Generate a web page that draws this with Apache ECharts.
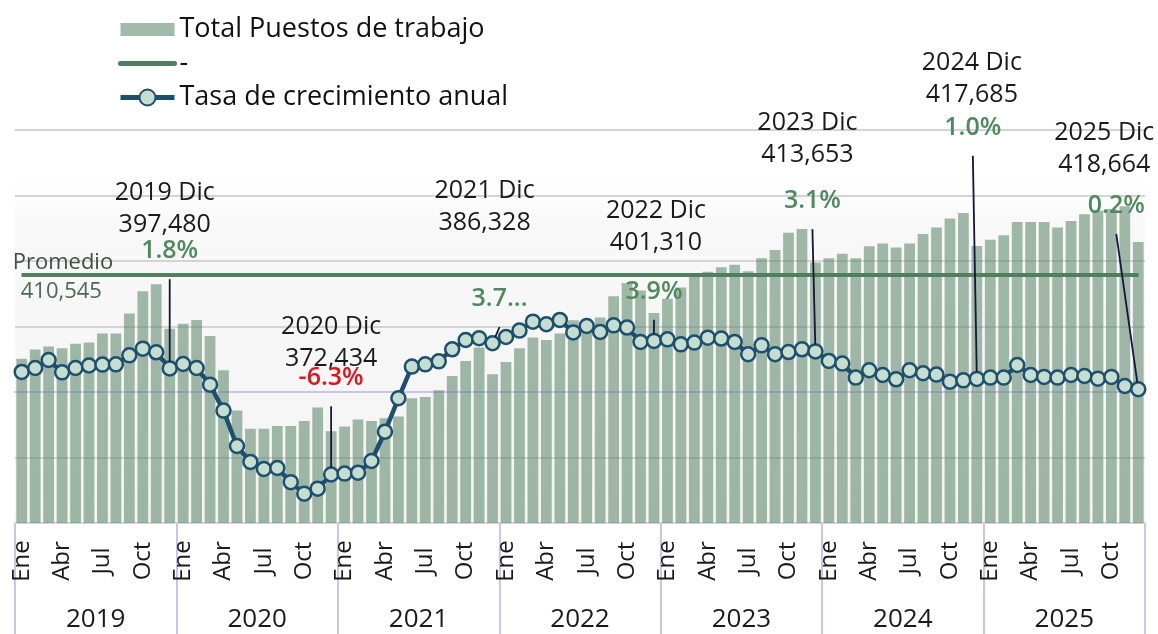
<!DOCTYPE html>
<html><head><meta charset="utf-8">
<script src="https://cdn.jsdelivr.net/npm/echarts@6/dist/echarts.min.js"></script>
<style>html,body{margin:0;padding:0;background:#fff}#c{width:1158px;height:634px}</style>
</head><body><div id="c"></div>
<script>
const MONTHS = ['Ene','Feb','Mar','Abr','May','Jun','Jul','Ago','Sep','Oct','Nov','Dic'];
const YEARS = ['2019','2020','2021','2022','2023','2024','2025'];
const PUESTOS = [
  390150, 392400, 393100, 392700, 393800, 394100, 396300, 396300, 401200, 406600, 408300, 397480,
  398700, 399600, 395700, 387300, 377500, 373000, 373000, 373700, 373700, 374900, 378200, 372434,
  373600, 375300, 374900, 375600, 376000, 380500, 380800, 382400, 385900, 389600, 392900, 386328,
  389300, 392700, 395300, 394700, 396300, 399500, 399800, 400200, 405400, 408600, 406800, 401310,
  404800, 407500, 410900, 411400, 412500, 413100, 411500, 414700, 416700, 420900, 421800, 413653,
  414700, 415800, 414700, 417600, 418300, 417300, 418300, 420600, 422200, 424400, 425700, 417685,
  419200, 420300, 423500, 423500, 423500, 422200, 423800, 425400, 426300, 426700, 427400, 418664
];
const TASA = [
  1.53, 1.83, 2.44, 1.50, 1.83, 2.02, 2.09, 2.11, 2.80, 3.31, 3.03, 1.80,
  2.14, 1.83, 0.56, -1.42, -4.12, -5.34, -5.88, -5.80, -6.88, -7.76, -7.38, -6.30,
  -6.23, -6.16, -5.27, -3.03, -0.48, 1.94, 2.11, 2.34, 3.26, 3.97, 4.10, 3.72,
  4.20, 4.69, 5.37, 5.17, 5.50, 4.55, 5.04, 4.58, 5.09, 4.92, 3.82, 3.90,
  4.02, 3.64, 3.77, 4.15, 4.08, 3.82, 2.88, 3.56, 2.88, 3.05, 3.26, 3.10,
  2.37, 2.17, 1.10, 1.66, 1.30, 0.97, 1.66, 1.43, 1.33, 0.79, 0.89, 1.00,
  1.10, 1.10, 2.06, 1.30, 1.15, 1.10, 1.30, 1.22, 1.02, 1.15, 0.46, 0.21
];
const PROMEDIO = 410545;
const SERIES_NAMES = ['Total Puestos de trabajo', '-', 'Tasa de crecimiento anual'];
// label text as printed in the source (2021 label is cut off there)
const PCT_TEXT_OVERRIDE = {'2021': '3.7...'};

const CATEGORIES = [];
YEARS.forEach(y => MONTHS.forEach(m => CATEGORIES.push(y + ' ' + m)));

const FONT = '"Open Sans", "Noto Sans", sans-serif';
const fmtNum = v => Math.round(v).toLocaleString('en-US');
const fmtPct = v => v.toFixed(1) + '%';
const isDec = i => i % 12 === 11;
const yearOf = i => YEARS[Math.floor(i / 12)];

// label displacement (style only)
const BAR_LABEL_SHIFT = {'2019':[-5,-83],'2020':[0,-51],'2021':[-8,-130],'2022':[2,-49],'2023':[-8,-87],'2024':[-5,-130],'2025':[-34,-56]};
const PCT_LABEL_SHIFT = {'2019':[0,-76],'2020':[0,-55],'2021':[7,-3],'2022':[0,-8],'2023':[-3,-109],'2024':[-4,-210],'2025':[-22,-142]};

const barData = PUESTOS.map((v, i) => isDec(i) ? {value: v, label: {show: true}} : v);
const rateData = TASA.map((v, i) => {
  if (!isDec(i)) return v;
  return {value: v, label: {show: true, color: v < 0 ? '#e3121b' : '#4e8a5e'}};
});

const chart = echarts.init(document.getElementById('c'), null, {renderer: 'canvas'});
chart.setOption({
  animation: false,
  backgroundColor: '#ffffff',
  textStyle: {fontFamily: FONT},
  legend: {
    orient: 'vertical', left: 113, top: 11,
    itemWidth: 54, itemHeight: 20, itemGap: 7,
    textStyle: {fontSize: 27, color: '#111', fontFamily: FONT, lineHeight: 27},
    lineStyle: {width: 5},
    data: [
      {name: SERIES_NAMES[0], icon: 'path://M0,0h0.5v0.01H0z M0,3.5h54v13H0z M0,19.99h0.5V20H0z'},
      {name: SERIES_NAMES[1], itemStyle: {opacity: 0}},
      {name: SERIES_NAMES[2]}
    ]
  },
  grid: {
    left: 15, right: 13, top: 130, bottom: 111, show: true, borderWidth: 0,
    backgroundColor: new echarts.graphic.LinearGradient(0, 0, 0, 1, [
      {offset: 0, color: '#ffffff'}, {offset: 0.12, color: '#ffffff'},
      {offset: 0.25, color: '#f8f8f8'}, {offset: 1, color: '#f4f4f4'}
    ])
  },
  xAxis: [
    {
      type: 'category', data: CATEGORIES, position: 'bottom', boundaryGap: true,
      axisLine: {show: true, lineStyle: {color: '#c9c5ef', width: 2}},
      axisTick: {show: false},
      axisLabel: {
        interval: 2, rotate: 90, margin: 38, align: 'center', verticalAlign: 'middle',
        fontSize: 24, color: '#1a1a1a', fontFamily: FONT,
        formatter: v => v.split(' ')[1]
      },
      splitLine: {show: false}
    },
    {
      type: 'category', data: YEARS, position: 'bottom', boundaryGap: true,
      axisLine: {show: false},
      axisTick: {show: true, length: 111, lineStyle: {color: '#c9c5ef', width: 2}},
      axisLabel: {margin: 84, fontSize: 26, color: '#1a1a1a', fontFamily: FONT},
      splitLine: {show: false}
    }
  ],
  yAxis: [
    {type: 'value', min: 350000, max: 446000, show: false, splitLine: {show: false}},
    {
      type: 'value', min: -10, max: 20, interval: 5, position: 'left',
      axisLabel: {show: false}, axisLine: {show: false}, axisTick: {show: false},
      splitLine: {show: true, lineStyle: {color: '#d4d4d4', width: 2}}
    }
  ],
  series: [
    {
      name: SERIES_NAMES[0], type: 'bar', xAxisIndex: 0, yAxisIndex: 0,
      data: barData, barCategoryGap: '20%',
      itemStyle: {color: 'rgba(92,134,104,0.57)'},
      label: {
        show: false, position: 'top', distance: 5,
        formatter: p => yearOf(p.dataIndex) + ' Dic\n' + fmtNum(p.value),
        fontSize: 25, lineHeight: 32, color: '#1a1a1a', align: 'center', fontFamily: FONT
      },
      labelLayout: p => {
        if (!isDec(p.dataIndex)) return {};
        const s = BAR_LABEL_SHIFT[yearOf(p.dataIndex)];
        return {dx: s[0], dy: s[1]};
      },
      z: 2
    },
    {
      name: SERIES_NAMES[1], type: 'line', xAxisIndex: 0, yAxisIndex: 0,
      data: [], symbol: 'none',
      lineStyle: {color: '#4f7f5f', width: 5, cap: 'round'},
      itemStyle: {color: '#4f7f5f'},
      markLine: {
        silent: true, symbol: 'none', animation: false,
        lineStyle: {color: '#4f7f5f', width: 4, type: 'solid'},
        data: [
          [{coord: [CATEGORIES[0], PROMEDIO], label: {show: true, position: 'insideStartTop', distance: [-9, 1], formatter: 'Promedio', color: '#3f4f45', fontSize: 22, fontFamily: FONT}},
           {coord: [CATEGORIES[CATEGORIES.length - 1], PROMEDIO]}],
          [{coord: [CATEGORIES[0], PROMEDIO], label: {show: true, position: 'insideStartBottom', distance: [-1, 6], formatter: fmtNum(PROMEDIO), color: '#4a6b55', fontSize: 22, fontFamily: FONT}},
           {coord: [CATEGORIES[CATEGORIES.length - 1], PROMEDIO]}]
        ]
      },
      z: 3
    },
    {
      name: SERIES_NAMES[2], type: 'line', xAxisIndex: 0, yAxisIndex: 1,
      data: rateData, symbol: 'circle', symbolSize: 14, showAllSymbol: true,
      lineStyle: {color: '#1d4f6e', width: 4.5},
      itemStyle: {color: '#c5decf', borderColor: '#1d4f6e', borderWidth: 2.5},
      label: {
        show: false, position: 'top', distance: 5,
        formatter: p => PCT_TEXT_OVERRIDE[yearOf(p.dataIndex)] || fmtPct(p.value),
        fontSize: 25, lineHeight: 28, fontWeight: 600, fontFamily: FONT,
        padding: [0, 0, 14, 0], color: '#4e8a5e'
      },
      labelLine: {show: true, showAbove: true, lineStyle: {color: '#16163a', width: 1.8}},
      labelLayout: p => {
        if (!isDec(p.dataIndex)) return {};
        const s = PCT_LABEL_SHIFT[yearOf(p.dataIndex)];
        return {dx: s[0], dy: s[1]};
      },
      z: 5
    }
  ]
});
</script>
</body></html>
